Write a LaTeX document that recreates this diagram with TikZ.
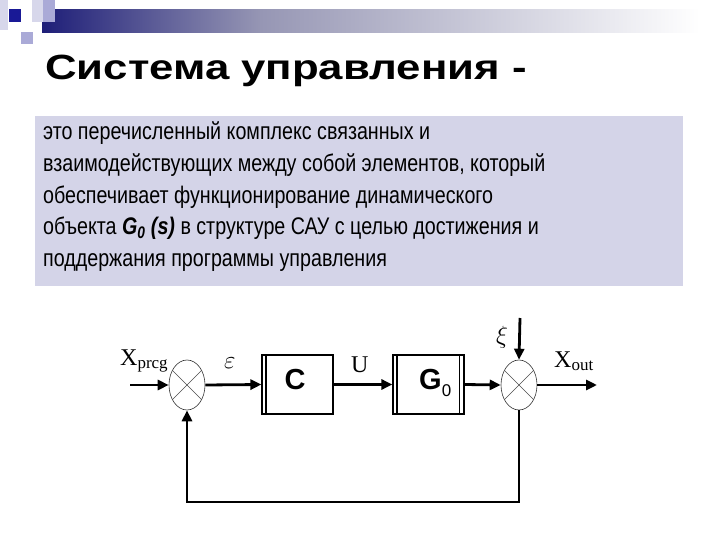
\documentclass[tikz,border=0pt]{standalone}
\usepackage{fontspec}
\setmainfont{Liberation Sans}
\newfontfamily\titlefont{Liberation Sans}[FakeStretch=1.25]
\newfontfamily\bodyfont{Liberation Sans}[FakeStretch=0.82]
\newfontfamily\lblfont{Liberation Serif}
\usetikzlibrary{shapes.geometric,arrows.meta}
\definecolor{navy}{RGB}{30,30,120}
\definecolor{midgrey}{RGB}{150,150,180}
\definecolor{sqdark}{RGB}{25,25,150}
\definecolor{sqmid}{RGB}{170,170,215}
\definecolor{sqlight}{RGB}{215,215,235}
\definecolor{boxbg}{RGB}{212,212,232}
\tikzset{
  sumnode/.style={ellipse,draw=black!80,line width=0.6pt,minimum width=36pt,minimum height=50pt,inner sep=0pt},
  blockbox/.style={draw,line width=1.2pt,minimum width=71pt,minimum height=59pt,inner sep=0pt},
  sig/.style={line width=2.8pt,-{Triangle[length=11pt,width=10pt]}},
  bodyline/.style={anchor=base west,inner sep=0pt,font=\bodyfont\fontsize{24}{24}\selectfont},
  lbl/.style={inner sep=0pt,font=\lblfont\fontsize{24}{24}\selectfont}
}
\begin{document}
\begin{tikzpicture}[x=1pt,y=-1pt]
\useasboundingbox (0,0) rectangle (720,540);
\fill[white] (0,0) rectangle (720,540);
% top decoration
\shade[left color=navy,right color=midgrey] (42,10) rectangle (260,33);
\shade[left color=midgrey,right color=white] (260,10) rectangle (700,33);
\fill[sqlight] (0,0) rectangle (8,30);
\fill[sqlight] (32,0) rectangle (43,22);
\fill[sqmid] (43,0) rectangle (55,22);
\fill[sqdark] (9,9) rectangle (21,22);
\fill[sqmid] (21,32) rectangle (33,44);
% title
\node[anchor=base west,inner sep=0pt,font=\titlefont\bfseries\fontsize{35}{35}\selectfont] (title) at (45,80) {Система управления -};
% definition box
\fill[boxbg] (35,116) rectangle (683,286);
\node[bodyline] (l1) at (43,140) {это перечисленный комплекс связанных и};
\node[bodyline] (l2) at (43,172) {взаимодействующих между собой элементов, который};
\node[bodyline] (l3) at (43,203.5) {обеспечивает функционирование динамического};
\node[bodyline] (l4) at (43,235) {объекта \textbf{\textit{G\textsubscript{0}} \textit{(s)}} в структуре САУ с целью достижения и};
\node[bodyline] (l5) at (43,266) {поддержания программы управления};
% block diagram
\node[sumnode] (s1) at (187,385) {};
\node[sumnode] (s2) at (519,385) {};
\foreach \s in {s1,s2}{
  \draw[line width=0.5pt,black!70] (\s.45) -- (\s.225);
  \draw[line width=0.5pt,black!70] (\s.135) -- (\s.315);
}
\node[blockbox] (c) at (297.5,384.5) {};
\node[blockbox] (g) at (428.5,384.5) {};
\draw[line width=1.2pt] ([xshift=4.5pt]c.north west) -- ([xshift=4.5pt]c.south west);
\draw[line width=1.2pt] ([xshift=4.5pt]g.north west) -- ([xshift=4.5pt]g.south west);
\draw[line width=1.2pt] ([xshift=-5.5pt]g.north east) -- ([xshift=-5.5pt]g.south east);
\node[inner sep=0pt,font=\bfseries\fontsize{29}{29}\selectfont] (ctext) at (295,380) {C};
\node[inner sep=0pt,anchor=base west,font=\fontsize{29}{29}\selectfont] (gtext) at (419,389) {\textbf{G}\raisebox{-7pt}{\fontsize{17}{17}\selectfont 0}};
\coordinate (in) at (130,385);
\coordinate (xi) at (520,318);
\coordinate (out) at (597,385);
\coordinate (fb) at (350,502);
\draw[sig] (in) -- (s1.west);
\draw[sig] (s1.east) -- (c.west);
\draw[sig] (c.east) -- (g.west);
\draw[sig] (g.east) -- (s2.west);
\draw[sig] (xi) -- (s2.north);
\draw[sig] (s2.east) -- (out);
\draw[sig,line join=miter] (s2.south) |- (fb) -| (s1.south);
% labels
\node[lbl,anchor=base west] (xprcg) at (120,365) {X\raisebox{-3pt}{\fontsize{17}{17}\selectfont prcg}};
\node[lbl,anchor=base west] (eps) at (224,368) {$\varepsilon$};
\node[lbl,anchor=base west] (ulbl) at (351,372) {U};
\node[lbl,anchor=base west] (xil) at (496,343) {$\xi$};
\node[lbl,anchor=base west] (xout) at (554,367) {X\raisebox{-3pt}{\fontsize{17}{17}\selectfont out}};
\end{tikzpicture}
\end{document}
